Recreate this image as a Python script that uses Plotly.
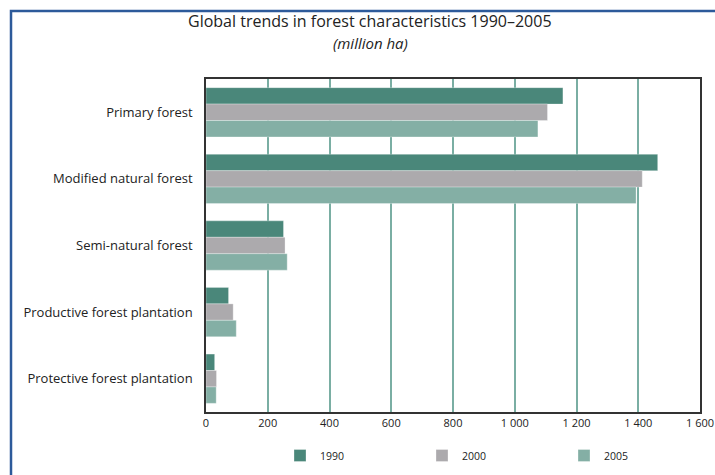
import plotly.graph_objects as go

categories = ["Primary forest", "Modified natural forest", "Semi-natural forest",
              "Productive forest plantation", "Protective forest plantation"]
years = ["1990", "2000", "2005"]
values_1990 = [1156, 1463, 251, 73, 28]
values_2000 = [1106, 1413, 256, 88, 34]
values_2005 = [1075, 1393, 263, 98, 33]
colors = ["#4a877a", "#acaaad", "#84afa5"]
tick_vals = [0, 200, 400, 600, 800, 1000, 1200, 1400, 1600]
tick_text = ["0", "200", "400", "600", "800", "1 000", "1 200", "1 400", "1 600"]

FONT = "'Open Sans', 'Noto Sans', sans-serif"
W, H = 715, 475
ML, MR, MT, MB = 206, 15, 79, 63
PW, PH = W - ML - MR, H - MT - MB

def px_x(x):
    return (x - ML) / PW

def px_y(y):
    return (H - MB - y) / PH

fig = go.Figure()
for yr, vals, col in zip(years, [values_1990, values_2000, values_2005], colors):
    fig.add_trace(go.Bar(
        y=categories, x=vals, name=yr, orientation="h",
        marker=dict(color=col, line=dict(color="rgba(255,255,255,0.6)", width=0.5)),
    ))

fig.update_layout(
    width=W, height=H,
    margin=dict(l=ML, r=MR, t=MT, b=MB, autoexpand=False),
    paper_bgcolor="white", plot_bgcolor="white",
    barmode="group", bargap=0.26, bargroupgap=0,
    font=dict(family=FONT, size=11, color="#222"),
    showlegend=True,
    legend=dict(orientation="h", x=px_x(280), xanchor="left", y=px_y(441), yanchor="top",
                entrywidth=97, entrywidthmode="pixels",
                font=dict(size=10.5, color="#222"), itemwidth=30,
                traceorder="normal"),
    shapes=[dict(type="rect", xref="paper", yref="paper",
                 x0=px_x(11), x1=px_x(760), y0=px_y(520), y1=px_y(11),
                 line=dict(color="#2d5a9a", width=2.5), fillcolor="rgba(0,0,0,0)",
                 layer="below")],
    annotations=[
        dict(text="Global trends in forest characteristics 1990\u20132005",
             x=px_x(370), y=px_y(21), xref="paper", yref="paper", showarrow=False,
             xanchor="center", yanchor="middle", font=dict(size=16, color="#222")),
        dict(text="<i>(million ha)</i>", x=px_x(370), y=px_y(43),
             xref="paper", yref="paper", showarrow=False,
             xanchor="center", yanchor="middle", font=dict(size=15, color="#222")),
    ],
)

fig.update_xaxes(range=[0, 1600], tickvals=tick_vals, ticktext=tick_text,
                 showgrid=True, gridcolor="#7aaea3", gridwidth=1.5,
                 showline=True, linecolor="#333", linewidth=1.5, mirror=True,
                 ticks="", tickfont=dict(size=11), zeroline=False)
fig.update_yaxes(autorange="reversed", showline=True, linecolor="#333", linewidth=1.5,
                 mirror=True, ticks="", ticklabelstandoff=9, tickfont=dict(size=13),
                 showgrid=False)

fig.write_html("out.html")
